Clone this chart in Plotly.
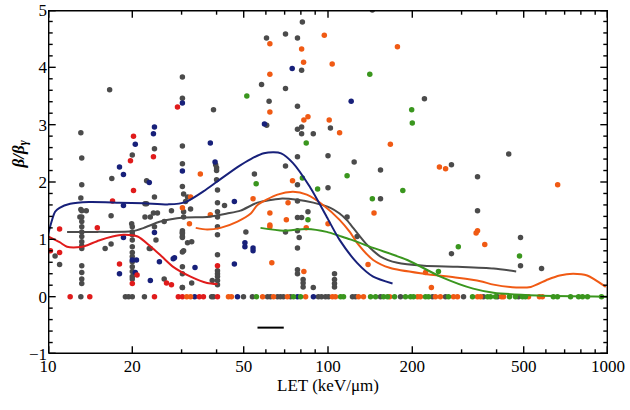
import plotly.graph_objects as go

# scatter points (LET in keV/um, beta/beta_gamma)
gray_x = [13.1, 13.2, 13.2, 13.1, 16.6, 16.9, 20, 24, 22.5, 24, 30.2, 30.2, 30.2, 30.2, 30.2, 30.5, 39, 39.7, 40, 40, 40, 40.3,
          144, 81, 60.3, 70.5, 77.8, 80.5, 57.9, 70.5, 61.6, 77.8, 60.4, 80.5, 77.8, 102, 80.5, 88.6, 100, 77.8, 124, 70.5, 154,
          54.6, 77.8, 100, 154, 221, 442, 276, 342,
          77.8, 84.8, 77.8, 80.5, 70.5, 77.8, 78.9, 50.9, 77.8, 77.8, 77.8, 81.5, 81.5, 81.5, 88.6, 105.5, 105.5, 105.5, 105.5,
          31, 32.3, 27.6, 40.3, 40.3, 40.3, 42.7, 26, 19.9, 40.3, 24, 30.2, 30.2, 40.3, 24.3, 32.6, 23, 30.2, 40.3, 40.3, 40.3,
          40.3, 40.3, 40.3, 26, 32.6, 30.2,
          13.1, 13.2, 13.7, 13, 13.2, 13.2, 13.2, 13.2, 13.2, 13.2, 13.2, 13.2, 13.2, 13.2, 13.2, 13.2,
          10.6, 11, 16.8, 16, 16.8,
          20, 20, 20, 20, 20, 20, 20, 20, 20, 20, 20, 20,
          22.2, 23.2, 22.2, 22.5, 23.8, 24.6, 23.2,
          31.5, 30.5, 30.5, 30.2, 30.2, 30.2, 31.5, 30.5, 30.2, 30.2, 30.2,
          38.6, 117, 127, 276, 487, 487, 579, 342]
gray_y = [2.86, 2.42, 1.95, 1.72, 3.61, 2.06, 2.47, 2.58, 2.02, 1.74, 3.83, 3.46, 2.63, 2.32, 1.92, 1.79, 3.26, 2.30, 2.25, 2.2, 2.04, 1.86,
          5.0, 4.79, 4.51, 4.58, 4.51, 3.95, 3.70, 3.63, 3.41, 3.32, 2.99, 2.96, 2.92, 2.94, 2.84, 2.84, 2.46, 2.44, 2.35, 2.28, 2.21,
          2.14, 1.95, 1.90, 1.71, 3.45, 2.49, 2.30, 2.09,
          1.67, 1.48, 1.38, 1.38, 1.13, 1.15, 1.03, 1.13, 0.85, 0.47, 0.40, 0.30, 0.24, 0.17, 0.16, 0.40, 0.30, 0.23, 0.17,
          1.66, 1.53, 1.50, 1.64, 1.48, 1.39, 1.59, 1.31, 1.27, 1.22, 1.22, 1.12, 1.05, 1.08, 0.99, 0.96, 0.84, 0.78, 0.73, 0.45, 0.40,
          0.35, 0.28, 0.21, 0.31, 0.24, 0.16,
          1.52, 1.50, 1.50, 1.39, 1.39, 1.31, 1.22, 1.13, 1.05, 0.96, 0.89, 0.84, 0.54, 0.42, 0.31, 0.23,
          0.71, 0.56, 1.41, 0.84, 0.92,
          1.22, 1.13, 1.08, 0.99, 0.87, 0.77, 0.70, 0.61, 0.52, 0.44, 0.35, 0.31,
          1.39, 1.39, 1.62, 1.62, 1.46, 1.46, 0.84,
          1.74, 1.48, 1.39, 1.15, 1.10, 1.03, 0.94, 0.80, 0.52, 0.40, 0.16,
          0.28, 1.39, 1.05, 0.75, 1.03, 0.54, 0.49, 1.50]
gray_zero_x = [13.1, 18.9, 19.4, 20.0, 22.1, 38.4, 39.0, 49.9, 53.7, 60.8, 62.3, 66.0, 67.6, 69.3, 73.5, 92.4, 94.8,
               98, 100.4, 122.3, 125.4, 154, 181.5, 236.1, 262.8, 304.8, 359, 403, 479]

blue_x = [20.5, 18, 18.6, 24, 23.8, 23, 30.2, 30.2, 38, 39.5, 74.5, 121, 59.3, 50.5, 50.5, 54, 54,
          24, 28.3, 25, 33.5, 46.3, 46.3, 20.5, 23.2, 18.6, 18.6, 20, 20.7, 18, 28]
blue_y = [2.66, 2.26, 2.13, 2.96, 2.84, 1.99, 3.38, 2.19, 2.68, 2.35, 3.98, 3.41, 3.01, 0.94, 0.87, 0.85, 0.80,
          1.12, 0.68, 0.61, 0.51, 0.57, 1.66, 0.42, 0.28, 1.59, 1.03, 0.64, 0.64, 0.40, 0.66]
blue_zero_x = [33.4, 47.5, 77.8, 88.7]

red_x = [20.2, 19.7, 20.2, 23.8, 29, 11, 10.2, 11, 17, 15, 18, 20, 20.8, 26.5, 27.6, 40.3]
red_y = [2.80, 2.37, 1.85, 2.44, 3.31, 1.18, 0.80, 0.77, 1.67, 1.20, 0.57, 0.23, 0.38, 0.24, 0.21, 0.54]
red_zero_x = [12.0, 14.1, 24.0, 29.2, 30.2, 34.7, 35.9, 40.3]

orange_x = [35, 32.3, 62, 80.5, 97, 177, 81.8, 103.5, 62, 62, 82, 84.8, 101, 110, 167, 74.7, 54, 250, 263, 661,
            72, 62, 71, 100, 62, 62, 83.6, 63, 82, 30.2, 38, 32, 342, 338, 363, 223, 234, 146, 139]
orange_y = [2.14, 1.74, 4.41, 4.32, 4.56, 4.36, 4.09, 4.06, 3.88, 3.22, 3.08, 3.14, 3.08, 2.86, 2.66, 2.02, 1.71, 2.26, 2.23, 1.95,
            1.64, 1.46, 1.34, 1.27, 1.25, 1.22, 1.20, 0.59, 0.44, 1.55, 1.43, 1.27, 1.15, 1.11, 0.91, 0.42, 0.16, 1.46, 0.56]
orange_zero_x = [31.3, 32.3, 44.1, 45.2, 58.4, 63.9, 71.6, 83.2, 103.7, 106.3, 128.5, 133.9, 166, 208.8, 213.8, 242, 252,
                 280.7, 290, 342, 350.6, 416.7, 423.5, 520, 569, 583]

green_x = [51.3, 141, 83.6, 117, 55.4, 81, 91.8, 144, 199, 200, 185, 84.8, 292, 483, 248]
green_y = [3.50, 3.88, 2.68, 2.11, 1.97, 2.07, 1.88, 1.71, 3.26, 3.03, 1.85, 1.34, 0.87, 0.71, 0.44]
green_zero_x = [55.5, 75.3, 79.8, 110.9, 113.6, 141.9, 147.9, 157.9, 163.1, 172.9, 189.1, 197.1, 202, 222.9, 228.5, 269.4,
                328.2, 371.5, 380.4, 396.5, 444.9, 467.3, 495, 507, 638, 660, 735, 785, 811, 845, 948]

# smoothed curves
blue_line_x = [10, 10.6, 11, 12, 14, 18, 22, 27, 31, 36, 40, 47.5, 53, 59, 64, 68, 75, 86, 99, 110, 127, 145, 170]
blue_line_y = [1.08, 1.48, 1.55, 1.62, 1.65, 1.64, 1.63, 1.61, 1.65, 1.84, 2.0, 2.26, 2.4, 2.5, 2.52, 2.5, 2.33, 1.92, 1.39, 0.99, 0.59, 0.35, 0.23]

red_line_x = [10, 11, 11.7, 12.7, 13.5, 15.2, 17, 18.6, 20.9, 23.2, 25.5, 28, 32.3, 37, 40.3]
red_line_y = [1.05, 0.95, 0.87, 0.86, 0.88, 0.98, 1.05, 1.08, 1.05, 0.88, 0.7, 0.52, 0.35, 0.24, 0.22]

gray_line_x = [11.7, 15, 20, 22, 25.2, 30.5, 37, 43.6, 48.7, 56, 67.6, 77.8, 88.6, 102, 110, 117, 123, 130, 138, 154, 177, 220, 290, 390, 470]
gray_line_y = [1.13, 1.13, 1.14, 1.2, 1.31, 1.38, 1.39, 1.45, 1.5, 1.64, 1.71, 1.69, 1.64, 1.55, 1.45, 1.33, 1.2, 1.05, 0.9, 0.70, 0.59, 0.54, 0.52, 0.49, 0.44]

orange_line_x = [33.7, 37, 41.3, 47.5, 53, 56, 66, 75, 84, 96, 110, 120, 127, 145, 167, 220, 290, 350, 390, 470, 530, 610, 672, 750, 843, 982]
orange_line_y = [1.2, 1.17, 1.2, 1.31, 1.45, 1.6, 1.78, 1.83, 1.78, 1.6, 1.34, 1.12, 0.94, 0.64, 0.5, 0.4, 0.33, 0.27, 0.21, 0.16, 0.17, 0.3, 0.37, 0.4, 0.37, 0.17]

green_line_x = [57.4, 69.4, 84, 99, 110, 120, 145, 192, 252, 330, 390, 560, 1000]
green_line_y = [1.2, 1.15, 1.18, 1.13, 1.06, 1.0, 0.85, 0.64, 0.35, 0.14, 0.07, 0.02, 0.0]

bar_x = [56, 69.5]
bar_y = [-0.54, -0.54]

x_min, x_max = 10, 1000
y_min, y_max = -1, 5
x_major = [10, 20, 50, 100, 200, 500, 1000]
x_minor = [30, 40, 60, 70, 80, 90, 300, 400, 600, 700, 800, 900]
y_major = [-1, 0, 1, 2, 3, 4, 5]
y_minor = [-0.8, -0.6, -0.4, -0.2, 0.2, 0.4, 0.6, 0.8, 1.2, 1.4, 1.6, 1.8, 2.2, 2.4, 2.6, 2.8,
           3.2, 3.4, 3.6, 3.8, 4.2, 4.4, 4.6, 4.8]

colors = {
    "gray": "#4b4b4b",
    "blue": "#17207a",
    "red": "#e01b1b",
    "orange": "#f05a14",
    "green": "#3a961e",
}

fig = go.Figure()

point_sets = [
    ("gray", gray_x, gray_y, gray_zero_x),
    ("blue", blue_x, blue_y, blue_zero_x),
    ("red", red_x, red_y, red_zero_x),
    ("orange", orange_x, orange_y, orange_zero_x),
    ("green", green_x, green_y, green_zero_x),
]
for name, xs, ys, zx in point_sets:
    fig.add_trace(go.Scatter(
        x=xs + zx, y=ys + [0] * len(zx), mode="markers",
        marker=dict(color=colors[name], size=5.5, line=dict(width=0)),
        showlegend=False, hoverinfo="skip"))

line_sets = [
    ("gray", gray_line_x, gray_line_y),
    ("orange", orange_line_x, orange_line_y),
    ("green", green_line_x, green_line_y),
    ("red", red_line_x, red_line_y),
    ("blue", blue_line_x, blue_line_y),
]
for name, xs, ys in line_sets:
    fig.add_trace(go.Scatter(
        x=xs, y=ys, mode="lines",
        line=dict(color=colors[name], width=2, shape="spline", smoothing=0.7),
        showlegend=False, hoverinfo="skip"))

fig.add_trace(go.Scatter(x=bar_x, y=bar_y, mode="lines",
                         line=dict(color="black", width=2), showlegend=False, hoverinfo="skip"))

# Mathematica-style frame with inward ticks on all four sides, drawn as line traces
# kept just inside the plot area (57.3 px per y unit, 280 px per x decade)
PX_Y = 1 / 57.3
FX = lambda px: 10 ** (px / 280)
inset = 0.7
xl, xr = x_min * FX(inset), x_max / FX(inset)
yb, yt = y_min + inset * PX_Y, y_max - inset * PX_Y

tick_x, tick_y = [], []
for vals, ln in ((x_major, 7), (x_minor, 4)):
    for v in vals:
        vv = min(max(v, xl), xr)
        tick_x += [vv, vv, None, vv, vv, None]
        tick_y += [yb, yb + ln * PX_Y, None, yt, yt - ln * PX_Y, None]
for vals, ln in ((y_major, 7), (y_minor, 4)):
    for v in vals:
        vv = min(max(v, yb), yt)
        tick_x += [xl, xl * FX(ln), None, xr, xr / FX(ln), None]
        tick_y += [vv, vv, None, vv, vv, None]

for seg_x, seg_y in ((tick_x, tick_y), ([xl, xr, xr, xl, xl], [yb, yb, yt, yt, yb])):
    fig.add_trace(go.Scatter(x=seg_x, y=seg_y, mode="lines", connectgaps=False,
                             line=dict(color="black", width=1.4, simplify=False),
                             showlegend=False, hoverinfo="skip"))

serif = "Liberation Serif"
fig.update_layout(
    width=630, height=410,
    margin=dict(l=48, r=22, t=10, b=56),
    paper_bgcolor="white", plot_bgcolor="white",
    font=dict(family=serif, size=17, color="black"),
    xaxis=dict(
        type="log", range=[1, 3], automargin=False,
        tickmode="array", tickvals=x_major, ticktext=[str(v) for v in x_major],
        ticks="", showline=False, showgrid=False, zeroline=False,
        title=dict(text="LET (keV/μm)", font=dict(family=serif, size=17), standoff=4),
    ),
    yaxis=dict(
        range=[y_min, y_max], automargin=False,
        tickmode="array", tickvals=y_major,
        ticks="", showline=False, showgrid=False, zeroline=False,
    ),
)

fig.add_annotation(
    text="<b><i>β/β<sub>γ</sub></i></b>", xref="paper", yref="paper",
    x=-0.05, y=0.58, textangle=-90, showarrow=False,
    font=dict(family=serif, size=17), xanchor="center", yanchor="middle")

# drop the default page margin so the 630x410 figure fills the window exactly
fig.write_html("out.html", config={"displayModeBar": False},
               post_script="document.body.style.margin='0';document.body.style.overflow='hidden';")
